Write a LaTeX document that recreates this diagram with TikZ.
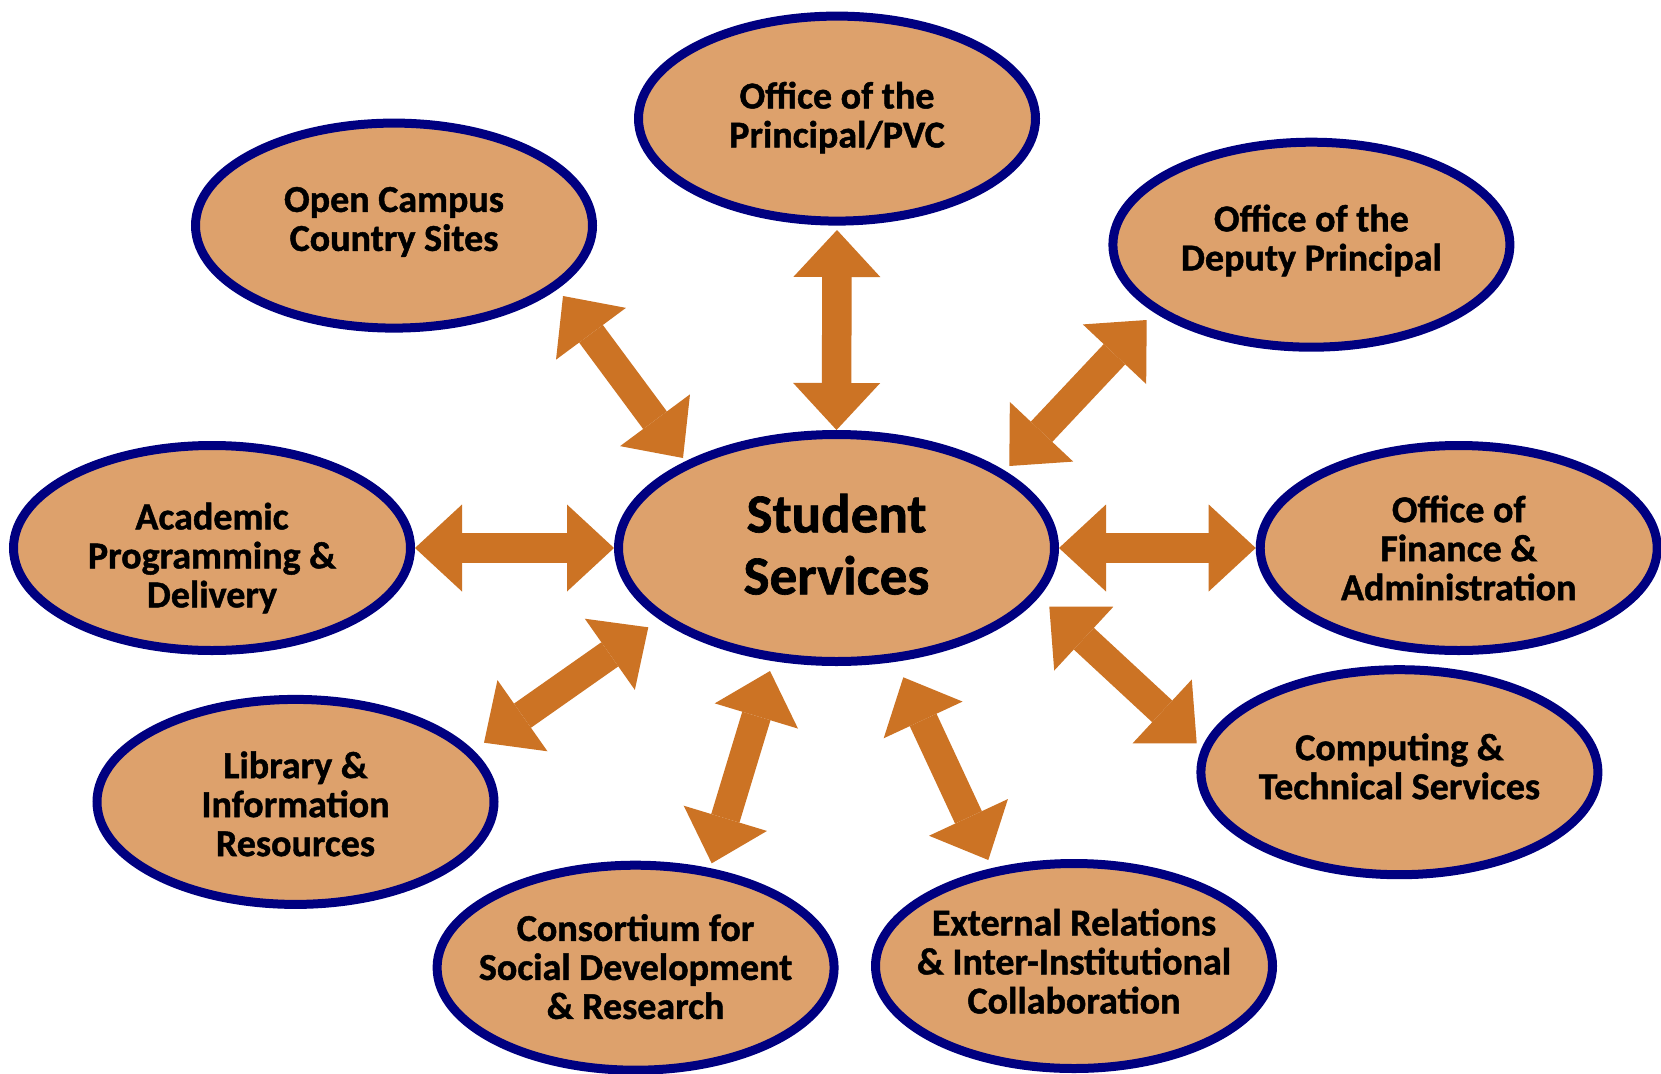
\documentclass[tikz,border=0pt]{standalone}
\usepackage{fontspec}
\setmainfont{Carlito}[BoldFeatures={FakeBold=1.2}]
\usetikzlibrary{arrows.meta,shapes.geometric,calc}
\definecolor{tanfill}{RGB}{221,161,108}
\definecolor{navyline}{RGB}{0,0,128}
\definecolor{arrowfill}{RGB}{204,115,36}
\begin{document}
\begin{tikzpicture}[x=1pt,y=-1pt,
  unit/.style={ellipse, draw=navyline, fill=tanfill, line width=9pt,
    minimum width=397pt, minimum height=205pt, inner sep=0pt},
  hub/.style={unit, minimum width=436pt, minimum height=227pt},
  lbl/.style={inner sep=0pt, align=center,
    font=\fontsize{38}{39}\selectfont\bfseries},
  hublbl/.style={lbl, font=\fontsize{55}{62}\selectfont\bfseries},
  link/.style={draw=arrowfill, line width=29.5pt,
    {Triangle[length=47pt,width=87pt,line width=0pt]}-{Triangle[length=47pt,width=87pt,line width=0pt]}}
]
\useasboundingbox[fill=white] (0,0) rectangle (1661,1073);

\node[hub]  (ss)   at (836.5,548)    {};
\node[unit] (pvc)  at (837,118.6)    {};
\node[unit] (oc)   at (394,225.6)    {};
\node[unit] (dp)   at (1311.4,244.7) {};
\node[unit] (ac)   at (212,548)      {};
\node[unit] (fin)  at (1458.7,548)   {};
\node[unit] (lib)  at (295.5,801.9)  {};
\node[unit] (comp) at (1399.4,772.2) {};
\node[unit] (cons) at (635.6,967.7)  {};
\node[unit] (ext)  at (1074,966)     {};

\node[hublbl] (ssT) at ($(ss.center)+(0,-3.7)$) {Student\\Services};
\node[lbl] (pvcT)  at ($(pvc.center)+(0,-1)$)    {Office of the\\Principal/PVC};
\node[lbl] (ocT)   at ($(oc.center)+(0,-3.7)$)   {Open Campus\\Country Sites};
\node[lbl] (dpT)   at ($(dp.center)+(0,-4.2)$)   {Office of the\\Deputy Principal};
\node[lbl] (acT)   at ($(ac.center)+(0,10)$)     {Academic\\Programming \&\\Delivery};
\node[lbl] (finT)  at ($(fin.center)+(0,0)$)     {Office of\\Finance \&\\Administration};
\node[lbl] (libT)  at ($(lib.center)+(0,2)$)     {Library \&\\Information\\Resources};
\node[lbl] (compT) at ($(comp.center)+(0,-5.8)$) {Computing \&\\Technical Services};
\node[lbl] (consT) at ($(cons.center)+(0,-1)$)   {Consortium for\\Social Development\\\& Research};
\node[lbl] (extT)  at ($(ext.center)+(0,-4.8)$)  {External Relations\\\& Inter-Institutional\\Collaboration};

% arrow end points near the ellipses
\coordinate (ocA)   at ($(oc.center)+(169,70.4)$);
\coordinate (ocB)   at ($(ss.center)+(-153.5,-90)$);
\coordinate (dpA)   at ($(dp.center)+(-164.7,75.3)$);
\coordinate (dpB)   at ($(ss.center)+(172.8,-82)$);
\coordinate (libA)  at ($(lib.center)+(188.5,-59.2)$);
\coordinate (libB)  at ($(ss.center)+(-188.2,79.3)$);
\coordinate (consA) at ($(cons.center)+(76.1,-104.4)$);
\coordinate (consB) at ($(ss.center)+(-66.5,123)$);
\coordinate (extA)  at ($(ext.center)+(-85.7,-106)$);
\coordinate (extB)  at ($(ss.center)+(66.8,129.3)$);
\coordinate (compA) at ($(comp.center)+(-202.7,-28.9)$);
\coordinate (compB) at ($(ss.center)+(212.8,58.7)$);
\coordinate (pvcA)  at ($(pvc.south)+(0,4.4)$);

\draw[link] (pvcA) -- (ss.north);
\draw[link] (ocA) -- (ocB);
\draw[link] (dpA) -- (dpB);
\draw[link] (ac.east) -- (ss.west);
\draw[link] (ss.east) -- (fin.west);
\draw[link] (libA) -- (libB);
\draw[link] (consA) -- (consB);
\draw[link] (extA) -- (extB);
\draw[link] (compA) -- (compB);
\end{tikzpicture}
\end{document}
